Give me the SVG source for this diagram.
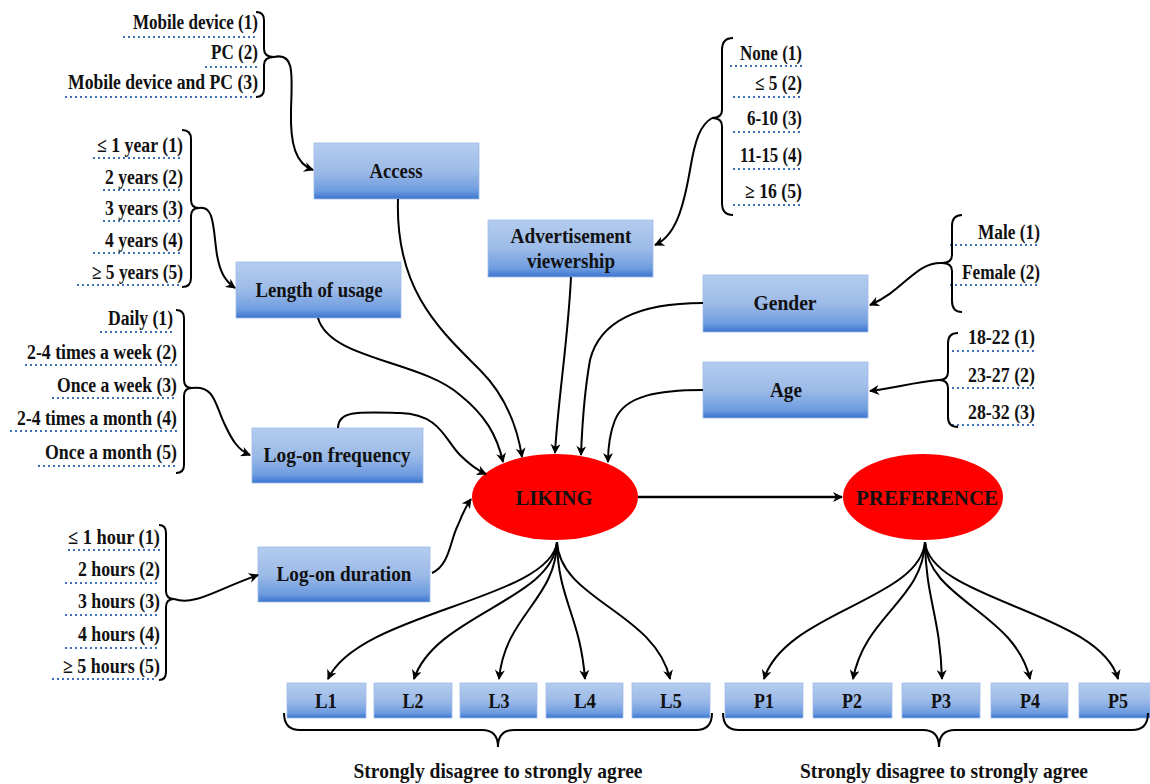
<svg xmlns="http://www.w3.org/2000/svg" width="1150" height="784" viewBox="0 0 1150 784">
<defs>
<linearGradient id="bx" x1="0" y1="0" x2="0" y2="1">
<stop offset="0" stop-color="#b4ccef"/>
<stop offset="0.5" stop-color="#9dbbe8"/>
<stop offset="0.85" stop-color="#6e9ce0"/>
<stop offset="1" stop-color="#3b74cf"/>
</linearGradient>
<marker id="ah" viewBox="0 0 10 10" refX="9" refY="5" markerWidth="11" markerHeight="10" orient="auto" markerUnits="userSpaceOnUse">
<path d="M0,0 L10,5 L0,10 L3,5 z" fill="#000"/>
</marker>
<style>
.t{font-family:"Liberation Serif","Times New Roman",serif;font-weight:bold;font-size:20px;fill:#111}
.bt{font-family:"Liberation Serif","Times New Roman",serif;font-weight:bold;font-size:21px;fill:#111;text-anchor:middle}
.e{text-anchor:end}
.box{fill:url(#bx);stroke:#9fbbe6;stroke-width:0.8}
.dot{stroke:#3f6fb8;stroke-width:2.2;stroke-dasharray:2 3;fill:none}
.br{fill:none;stroke:#000;stroke-width:2}
.c{fill:none;stroke:#000;stroke-width:2;marker-end:url(#ah)}
.ov{fill:#ff0000}
</style>
</defs>
<rect width="1150" height="784" fill="#fff"/>

<g id="access-options">
<text class="t e" x="258" y="29" textLength="125" lengthAdjust="spacingAndGlyphs">Mobile device (1)</text>
<text class="t e" x="258" y="59" textLength="47" lengthAdjust="spacingAndGlyphs">PC (2)</text>
<text class="t e" x="258" y="89" textLength="190" lengthAdjust="spacingAndGlyphs">Mobile device and PC (3)</text>
<line class="dot" x1="123" y1="37" x2="258" y2="37"/>
<line class="dot" x1="205" y1="67" x2="258" y2="67"/>
<line class="dot" x1="65" y1="97" x2="254" y2="97"/>
<path class="br" d="M256 12 Q264 12 264 20 L264 49 Q264 57 274 57 Q264 57 264 65 L264 89 Q264 97 256 97"/>
</g>

<g id="length-options">
<text class="t e" x="183" y="152" textLength="86" lengthAdjust="spacingAndGlyphs">≤ 1 year (1)</text>
<text class="t e" x="183" y="184" textLength="78" lengthAdjust="spacingAndGlyphs">2 years (2)</text>
<text class="t e" x="183" y="215" textLength="78" lengthAdjust="spacingAndGlyphs">3 years (3)</text>
<text class="t e" x="183" y="247" textLength="78" lengthAdjust="spacingAndGlyphs">4 years (4)</text>
<text class="t e" x="183" y="279" textLength="91" lengthAdjust="spacingAndGlyphs">≥ 5 years (5)</text>
<line class="dot" x1="93" y1="158" x2="183" y2="158"/>
<line class="dot" x1="103" y1="190" x2="183" y2="190"/>
<line class="dot" x1="103" y1="221" x2="183" y2="221"/>
<line class="dot" x1="93" y1="253" x2="183" y2="253"/>
<line class="dot" x1="77" y1="285" x2="180" y2="285"/>
<path class="br" d="M182 130 Q191 130 191 139 L191 200 Q191 208 199 208 Q191 208 191 216 L191 278 Q191 287 182 287"/>
</g>

<g id="frequency-options">
<text class="t e" x="173" y="325" textLength="65" lengthAdjust="spacingAndGlyphs">Daily (1)</text>
<text class="t e" x="177" y="359" textLength="150" lengthAdjust="spacingAndGlyphs">2-4 times a week (2)</text>
<text class="t e" x="177" y="392" textLength="120" lengthAdjust="spacingAndGlyphs">Once a week (3)</text>
<text class="t e" x="177" y="425" textLength="160" lengthAdjust="spacingAndGlyphs">2-4 times a month (4)</text>
<text class="t e" x="177" y="459" textLength="132" lengthAdjust="spacingAndGlyphs">Once a month (5)</text>
<line class="dot" x1="100" y1="332" x2="172" y2="332"/>
<line class="dot" x1="25" y1="365" x2="177" y2="365"/>
<line class="dot" x1="52" y1="398" x2="177" y2="398"/>
<line class="dot" x1="10" y1="431" x2="177" y2="431"/>
<line class="dot" x1="38" y1="466" x2="177" y2="466"/>
<path class="br" d="M176 310 Q184 310 184 318 L184 380 Q184 388 192 388 Q184 388 184 396 L184 465 Q184 473 176 473"/>
</g>

<g id="duration-options">
<text class="t e" x="160" y="544" textLength="92" lengthAdjust="spacingAndGlyphs">≤ 1 hour (1)</text>
<text class="t e" x="160" y="576" textLength="82" lengthAdjust="spacingAndGlyphs">2 hours (2)</text>
<text class="t e" x="160" y="608" textLength="82" lengthAdjust="spacingAndGlyphs">3 hours (3)</text>
<text class="t e" x="160" y="641" textLength="82" lengthAdjust="spacingAndGlyphs">4 hours (4)</text>
<text class="t e" x="160" y="673" textLength="97" lengthAdjust="spacingAndGlyphs">≥ 5 hours (5)</text>
<line class="dot" x1="68" y1="550" x2="160" y2="550"/>
<line class="dot" x1="65" y1="583" x2="160" y2="583"/>
<line class="dot" x1="65" y1="615" x2="160" y2="615"/>
<line class="dot" x1="65" y1="648" x2="160" y2="648"/>
<line class="dot" x1="52" y1="679" x2="157" y2="679"/>
<path class="br" d="M159 525 Q166 525 166 533 L166 591 Q166 599 174 599 Q166 599 166 607 L166 672 Q166 680 159 680"/>
</g>

<g id="ad-options">
<text class="t e" x="802" y="60" textLength="62" lengthAdjust="spacingAndGlyphs">None (1)</text>
<text class="t e" x="802" y="90" textLength="47" lengthAdjust="spacingAndGlyphs">≤ 5 (2)</text>
<text class="t e" x="802" y="125" textLength="55" lengthAdjust="spacingAndGlyphs">6-10 (3)</text>
<text class="t e" x="802" y="162" textLength="62" lengthAdjust="spacingAndGlyphs">11-15 (4)</text>
<text class="t e" x="802" y="198" textLength="57" lengthAdjust="spacingAndGlyphs">≥ 16 (5)</text>
<line class="dot" x1="730" y1="66" x2="802" y2="66"/>
<line class="dot" x1="733" y1="97" x2="802" y2="97"/>
<line class="dot" x1="733" y1="132" x2="802" y2="132"/>
<line class="dot" x1="733" y1="169" x2="802" y2="169"/>
<line class="dot" x1="733" y1="205" x2="802" y2="205"/>
<path class="br" d="M733 38 Q722 38 722 50 L722 110 Q722 118 712 118 Q722 118 722 126 L722 203 Q722 215 733 215"/>
</g>

<g id="gender-options">
<text class="t e" x="1040" y="239" textLength="62" lengthAdjust="spacingAndGlyphs">Male (1)</text>
<text class="t e" x="1040" y="279" textLength="78" lengthAdjust="spacingAndGlyphs">Female (2)</text>
<line class="dot" x1="950" y1="245" x2="1040" y2="245"/>
<line class="dot" x1="950" y1="285" x2="1040" y2="285"/>
<path class="br" d="M962 215 Q952 215 952 226 L952 255 Q952 263 942 263 Q952 263 952 271 L952 301 Q952 312 962 312"/>
</g>

<g id="age-options">
<text class="t e" x="1035" y="344" textLength="67" lengthAdjust="spacingAndGlyphs">18-22 (1)</text>
<text class="t e" x="1035" y="382" textLength="67" lengthAdjust="spacingAndGlyphs">23-27 (2)</text>
<text class="t e" x="1035" y="419" textLength="67" lengthAdjust="spacingAndGlyphs">28-32 (3)</text>
<line class="dot" x1="952" y1="351" x2="1035" y2="351"/>
<line class="dot" x1="952" y1="388" x2="1035" y2="388"/>
<line class="dot" x1="952" y1="425" x2="1035" y2="425"/>
<path class="br" d="M958 333 Q948 333 948 343 L948 372 Q948 380 939 380 Q948 380 948 388 L948 417 Q948 427 958 427"/>
</g>

<g id="access"><rect class="box" x="314" y="143" width="165" height="56"/><text class="bt" x="396" y="178" textLength="53" lengthAdjust="spacingAndGlyphs">Access</text></g>
<g id="advertisement"><rect class="box" x="488" y="220" width="165" height="57"/><text class="bt" x="571" y="243" textLength="121" lengthAdjust="spacingAndGlyphs">Advertisement</text><text class="bt" x="571" y="268" textLength="88" lengthAdjust="spacingAndGlyphs">viewership</text></g>
<g id="length"><rect class="box" x="236" y="262" width="165" height="56"/><text class="bt" x="319" y="297" textLength="127" lengthAdjust="spacingAndGlyphs">Length of usage</text></g>
<g id="frequency"><rect class="box" x="252" y="428" width="171" height="55"/><text class="bt" x="337" y="462" textLength="147" lengthAdjust="spacingAndGlyphs">Log-on frequency</text></g>
<g id="duration"><rect class="box" x="258" y="547" width="172" height="55"/><text class="bt" x="344" y="581" textLength="135" lengthAdjust="spacingAndGlyphs">Log-on duration</text></g>
<g id="gender"><rect class="box" x="703" y="275" width="165" height="57"/><text class="bt" x="785" y="310" textLength="63" lengthAdjust="spacingAndGlyphs">Gender</text></g>
<g id="age"><rect class="box" x="703" y="362" width="165" height="56"/><text class="bt" x="786" y="397" textLength="32" lengthAdjust="spacingAndGlyphs">Age</text></g>

<g id="liking"><ellipse class="ov" cx="555" cy="497" rx="83" ry="43"/><text class="bt" x="554" y="505" textLength="77" lengthAdjust="spacingAndGlyphs">LIKING</text></g>
<g id="preference"><ellipse class="ov" cx="923" cy="497" rx="80" ry="43"/><text class="bt" x="927" y="505" textLength="142" lengthAdjust="spacingAndGlyphs">PREFERENCE</text></g>

<g id="l1"><rect class="box" x="287" y="683" width="79" height="35"/><text class="bt" x="326" y="708" textLength="22" lengthAdjust="spacingAndGlyphs">L1</text></g>
<g id="l2"><rect class="box" x="374" y="683" width="78" height="35"/><text class="bt" x="413" y="708" textLength="21" lengthAdjust="spacingAndGlyphs">L2</text></g>
<g id="l3"><rect class="box" x="460" y="683" width="77" height="35"/><text class="bt" x="499" y="708" textLength="21" lengthAdjust="spacingAndGlyphs">L3</text></g>
<g id="l4"><rect class="box" x="546" y="683" width="77" height="35"/><text class="bt" x="585" y="708" textLength="22" lengthAdjust="spacingAndGlyphs">L4</text></g>
<g id="l5"><rect class="box" x="632" y="683" width="78" height="35"/><text class="bt" x="671" y="708" textLength="22" lengthAdjust="spacingAndGlyphs">L5</text></g>
<g id="p1"><rect class="box" x="725" y="683" width="78" height="35"/><text class="bt" x="764" y="708" textLength="20" lengthAdjust="spacingAndGlyphs">P1</text></g>
<g id="p2"><rect class="box" x="813" y="683" width="79" height="35"/><text class="bt" x="852" y="708" textLength="20" lengthAdjust="spacingAndGlyphs">P2</text></g>
<g id="p3"><rect class="box" x="902" y="683" width="78" height="35"/><text class="bt" x="941" y="708" textLength="20" lengthAdjust="spacingAndGlyphs">P3</text></g>
<g id="p4"><rect class="box" x="991" y="683" width="77" height="35"/><text class="bt" x="1030" y="708" textLength="20" lengthAdjust="spacingAndGlyphs">P4</text></g>
<g id="p5"><rect class="box" x="1079" y="683" width="78" height="35"/><text class="bt" x="1118" y="708" textLength="20" lengthAdjust="spacingAndGlyphs">P5</text></g>

<g id="scale-l">
<path class="br" d="M284 713 Q284 730 300 730 L482 730 Q498 730 498 747 Q498 730 514 730 L696 730 Q712 730 712 713"/>
<text class="bt" x="498" y="778" textLength="289" lengthAdjust="spacingAndGlyphs">Strongly disagree to strongly agree</text>
</g>
<g id="scale-p">
<path class="br" d="M723 713 Q723 730 739 730 L923 730 Q939 730 939 747 Q939 730 955 730 L1132 730 Q1148 730 1148 713"/>
<text class="bt" x="944" y="778" textLength="288" lengthAdjust="spacingAndGlyphs">Strongly disagree to strongly agree</text>
</g>

<g id="connectors">
<path class="c" d="M274 57 C295 52 292 75 291 110 C290 145 296 164 313 170"/>
<path class="c" d="M199 208 C215 205 213 230 217 255 C220 272 225 281 235 288"/>
<path class="c" d="M192 388 C215 385 215 405 225 425 C232 440 238 450 250 455"/>
<path class="c" d="M174 599 C195 606 215 590 258 575"/>
<path class="c" d="M712 118 C700 125 695 140 690 170 C683 210 675 236 655 245"/>
<path class="c" d="M942 263 C915 262 905 290 870 305"/>
<path class="c" d="M939 380 C915 382 895 388 870 391"/>
<path class="c" d="M318 318 C330 360 420 360 460 395 C485 415 497 435 503 462"/>
<path class="c" d="M398 199 C395 290 440 330 480 370 C505 395 517 425 522 457"/>
<path class="c" d="M571 277 C568 340 558 400 555 453"/>
<path class="c" d="M703 303 C640 303 600 320 590 360 C583 400 582 430 581 455"/>
<path class="c" d="M703 390 C660 390 625 395 615 420 C609 435 608 450 608 462"/>
<path class="c" d="M338 428 C338 410 360 412 400 413 C440 414 445 440 460 455 C470 465 477 470 486 474"/>
<path class="c" d="M432 573 C450 565 450 540 458 525 C462 515 466 506 471 499"/>
<path class="c" style="stroke-width:2.5" d="M638 497 L842 497"/>
<path class="c" d="M557 542 C550 600 359 612 328 679"/>
<path class="c" d="M557 542 C553 600 435 615 414 679"/>
<path class="c" d="M557 542 C556 600 505 615 499 679"/>
<path class="c" d="M557 542 C558 600 580 615 585 679"/>
<path class="c" d="M557 542 C560 600 655 612 670 679"/>
<path class="c" d="M925 542 C920 600 785 612 764 679"/>
<path class="c" d="M925 542 C923 600 865 615 853 679"/>
<path class="c" d="M925 542 C926 600 940 615 942 679"/>
<path class="c" d="M925 542 C928 600 1015 612 1030 679"/>
<path class="c" d="M925 542 C930 600 1100 612 1118 679"/>
</g>
</svg>
